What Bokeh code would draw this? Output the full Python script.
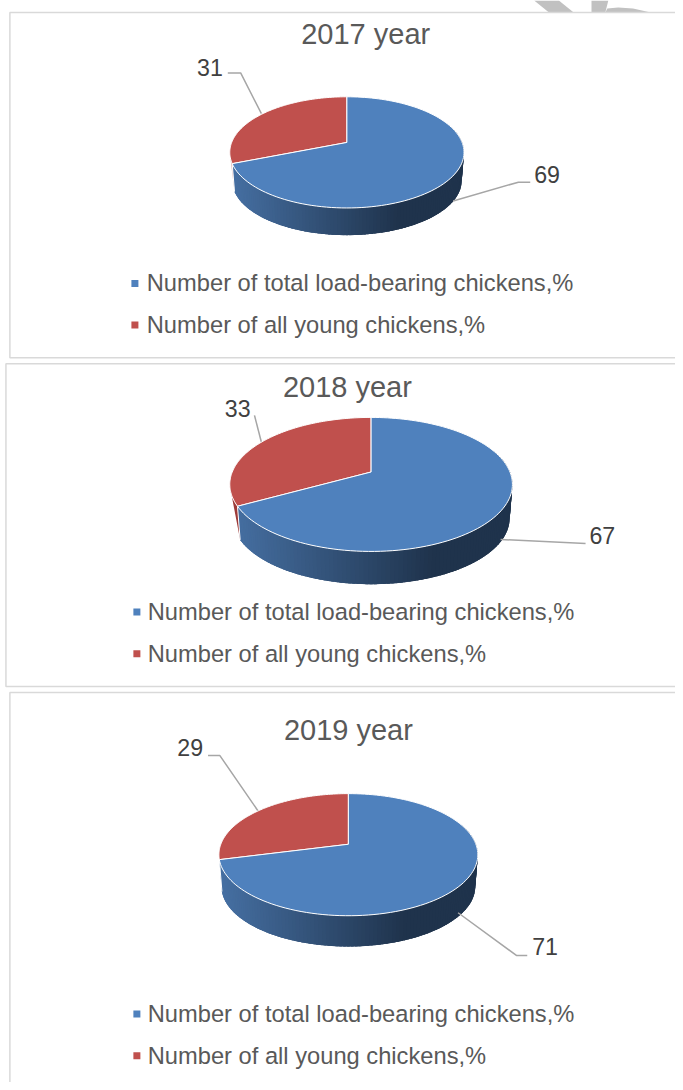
import math
from bokeh.plotting import figure
from bokeh.core.properties import value
from bokeh.embed import file_html
from bokeh.resources import INLINE

years = ["2017 year", "2018 year", "2019 year"]
series_names = ["Number of total load-bearing chickens,%", "Number of all young chickens,%"]
total_hens = [69, 67, 71]
young_hens = [31, 33, 29]

# layout of each panel: pie geometry (reference pixels)
pies = [
    dict(cx=350.5, cy=143, rx=118.5, up=46, down=66, dy=28.7, sc=0.98),
    dict(cx=375.0, cy=475, rx=143.0, up=55, down=80, dy=34.6, sc=0.98),
    dict(cx=352.0, cy=850, rx=131.0, up=51, down=72, dy=32.4, sc=0.98),
]
red_wall = ["#dfb0ae", "#9c3a38", None]
title_pos = [(369.5, 34), (351, 389), (352, 735)]
legend_pos = [(136, 148, 285, 327), (138, 149, 616, 658), (138, 149, 1021, 1063)]
blue_label = [(553, 175), (609, 539), (551, 953)]
red_label = [(212, 67), (240, 411), (192, 753)]
blue_leader = [[(458, 202), (524, 183), (536, 183)], [(506, 543), (592, 547)], [(463, 919), (522, 962), (533, 962)]]
red_leader = [[(230, 73), (243, 73), (264, 114)], [(257, 418), (264, 445)], [(210, 760.7), (222, 760.7), (261, 817)]]
frames = [
    [(683, 12), (9.5, 12), (9.5, 360), (683, 360)],
    [(683, 366), (5.5, 366), (5.5, 691), (683, 691)],
    [(683, 697), (9.5, 697), (9.5, 1090)],
]
watermark = [
    [(540, 0), (565, 0), (580, 12), (555, 12)],
    [(598, 0), (615, 0), (612, 12), (598, 12)],
    [(612, 12), (614, 8), (625, 7), (640, 8), (658, 12)],
]

BLUE, RED = "#4f81bd", "#c0504d"
FONT = value("Liberation Sans")

p = figure(width=675, height=1082, x_range=(0, 683), y_range=(1090, 0),
           output_backend="svg", toolbar_location=None, min_border=0,
           background_fill_color="white", border_fill_color="white")
p.axis.visible = False
p.grid.visible = False
p.outline_line_color = None


def proj(g, deg, low=False):
    t = math.radians(deg)
    u, v = math.sin(t), -math.cos(t)
    k = (g["down"] - g["up"]) / (g["down"] + g["up"])
    a = g["up"] * (1 + k)
    b = g["rx"] * math.sqrt(1 - k * k)
    d = 1 - k * v
    x, y = b * u / d, a * v / d
    if low:
        return g["cx"] + x * g["sc"], g["cy"] + y * g["sc"] + g["dy"]
    return g["cx"] + x, g["cy"] + y


def lerp(c1, c2, f):
    return "#" + "".join(f"{round(x + (y - x) * f):02x}" for x, y in zip(c1, c2))


def wall_colour(g, x):
    f = (x - (g["cx"] - g["rx"])) / (2 * g["rx"])
    return lerp((0x46, 0x70, 0xa3), (0x1f, 0x33, 0x4c), min(1, f / 0.72))


for xs in watermark:
    p.patch([q[0] for q in xs], [q[1] for q in xs], fill_color="#c1c1c1", line_color=None)

for fr in frames:
    p.line([q[0] for q in fr], [q[1] for q in fr], line_color="#d9d9d9", line_width=1.5)

for i, g in enumerate(pies):
    boundary = 360 * total_hens[i] / (total_hens[i] + young_hens[i])
    # side wall: overlapping strips so that no seams show
    t = 70.0
    while t < boundary:
        t2 = min(t + 4.0, boundary)
        tm = min(t + 1.5, boundary)
        a1, a2, b2, b1 = proj(g, t), proj(g, t2), proj(g, t2, True), proj(g, t, True)
        col = wall_colour(g, proj(g, (t + tm) / 2)[0])
        p.patch([a1[0], a2[0], b2[0], b1[0]], [a1[1], a2[1], b2[1], b1[1]],
                fill_color=col, line_color=None)
        t = tm
        if tm >= boundary:
            break
    if red_wall[i]:
        rw = [proj(g, boundary + (258 - boundary) * j / 6) for j in range(7)]
        rw += [proj(g, boundary, True)]
        p.patch([q[0] for q in rw], [q[1] for q in rw], fill_color=red_wall[i], line_color=None)
    a, b = proj(g, boundary), proj(g, boundary, True)
    p.line([a[0], b[0]], [a[1], b[1]], line_color="white", line_width=1)
    # leader lines sit below the pie edge
    for ld in (blue_leader[i], red_leader[i]):
        p.line([q[0] for q in ld], [q[1] for q in ld], line_color="#a6a6a6", line_width=1.5)
    # top slices
    n = 120
    bl = [proj(g, boundary * j / n) for j in range(n + 1)] + [(g["cx"], g["cy"])]
    rd = [proj(g, boundary + (360 - boundary) * j / n) for j in range(n + 1)] + [(g["cx"], g["cy"])]
    p.patch([q[0] for q in rd], [q[1] for q in rd], fill_color=RED, line_color="white", line_width=1)
    p.patch([q[0] for q in bl], [q[1] for q in bl], fill_color=BLUE, line_color="white", line_width=1)
    # title
    p.text([title_pos[i][0]], [title_pos[i][1]], text=[years[i]], text_font=FONT, text_font_size="29px",
           text_color="#595959", text_align="center", text_baseline="middle")
    # data labels
    p.text([blue_label[i][0]], [blue_label[i][1]], text=[str(total_hens[i])], text_font=FONT,
           text_font_size="23.2px", text_color="#404040", text_align="center", text_baseline="middle")
    p.text([red_label[i][0]], [red_label[i][1]], text=[str(young_hens[i])], text_font=FONT,
           text_font_size="23.2px", text_color="#404040", text_align="center", text_baseline="middle")
    # legend
    mx, tx, y1, y2 = legend_pos[i]
    for yy, col, name in ((y1, BLUE, series_names[0]), (y2, RED, series_names[1])):
        p.scatter([mx], [yy], marker="square", size=7, fill_color=col, line_color=None)
        p.text([tx], [yy], text=[name], text_font=FONT, text_font_size="23.7px",
               text_color="#595959", text_align="left", text_baseline="middle")

open("out.html", "w").write(file_html(p, INLINE))
